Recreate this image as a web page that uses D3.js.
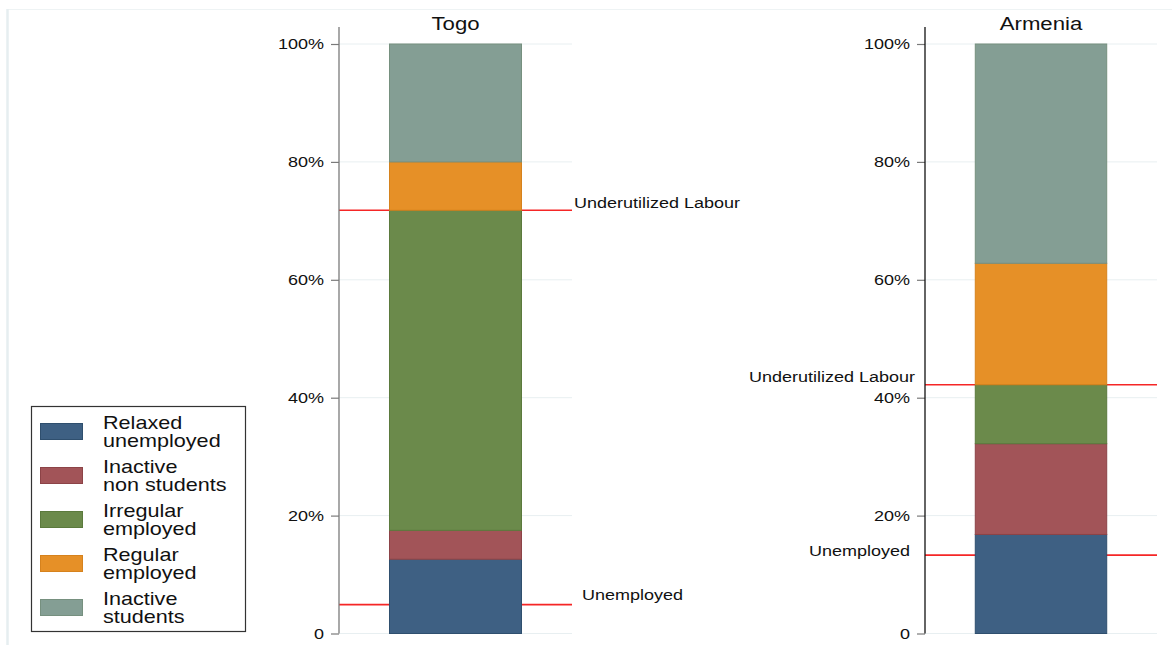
<!DOCTYPE html>
<html>
<head>
<meta charset="utf-8">
<script src="https://cdn.jsdelivr.net/npm/d3@7"></script>
<style>
  html, body { margin: 0; padding: 0; background: #fff; }
  svg { display: block; font-family: "Liberation Sans", Arial, sans-serif; }
</style>
</head>
<body>
<svg id="chart" width="1172" height="645"></svg>
<script>
// ---- data ----
const countries = ["Togo", "Armenia"];
const categories = ["Relaxed unemployed", "Inactive non students", "Irregular employed", "Regular employed", "Inactive students"];
const togoValues = [12.6, 4.9, 54.3, 8.2, 20.0];
const armeniaValues = [16.8, 15.4, 10.0, 20.6, 37.2];
const unemployedRate = [4.9, 13.3];
const underutilizedRate = [71.8, 42.2];
const refLabels = ["Unemployed", "Underutilized Labour"];
const yTicks = [0, 20, 40, 60, 80, 100];
const colors = ["#3e6083", "#a25458", "#6b8a4b", "#e69027", "#849e94"];
const strokes = ["#2f4f6e", "#8c4347", "#5b7a3d", "#d6821d", "#76907f"];

const values = [togoValues, armeniaValues];

const svg = d3.select("#chart");
const SX = 1.2; // horizontal text stretch of the original

// outer frame
svg.append("line").attr("x1", 7).attr("x2", 1172).attr("y1", 9.5).attr("y2", 9.5)
  .attr("stroke", "#eef3f4").attr("stroke-width", 1);
svg.append("line").attr("x1", 7.5).attr("x2", 7.5).attr("y1", 9).attr("y2", 645)
  .attr("stroke", "#e6eef0").attr("stroke-width", 2.5);

function stretchedText(g, x, y, txt, size, anchor) {
  return g.append("text")
    .attr("transform", `translate(${x},${y}) scale(${SX},1)`)
    .attr("text-anchor", anchor)
    .attr("font-size", size)
    .attr("fill", "#111")
    .text(txt);
}

const panels = [
  { x0: 339, x1: 572, axisColor: "#7a7a7a", labelSide: "right" },
  { x0: 925, x1: 1157, axisColor: "#111", labelSide: "left" }
];

const y = d3.scaleLinear().domain([0, 100]).range([633.5, 44]);

countries.forEach((c, ci) => {
  const p = panels[ci];
  const g = svg.append("g");
  const x = d3.scaleBand().domain([c]).range([p.x0, p.x1]).paddingInner(0.2732).paddingOuter(0.2732);

  // gridlines
  g.selectAll(".grid").data(yTicks).enter().append("line")
    .attr("x1", p.x0).attr("x2", p.x1)
    .attr("y1", d => y(d)).attr("y2", d => y(d))
    .attr("stroke", "#e8eff1").attr("stroke-width", 1);

  // reference lines (behind bars)
  const refs = [unemployedRate[ci], underutilizedRate[ci]];
  g.selectAll(".ref").data(refs).enter().append("line")
    .attr("x1", p.x0).attr("x2", p.x1)
    .attr("y1", d => y(d)).attr("y2", d => y(d))
    .attr("stroke", "#f52626").attr("stroke-width", 1.6);

  // stacked bars
  const vals = values[ci];
  const cum = d3.cumsum(vals);
  const segs = vals.map((v, i) => ({ i, y0: cum[i] - v, y1: cum[i] }));
  g.selectAll(".seg").data(segs).enter().append("rect")
    .attr("x", x(c) + 0.5)
    .attr("width", x.bandwidth() - 1)
    .attr("y", d => y(d.y1))
    .attr("height", d => y(d.y0) - y(d.y1))
    .attr("fill", d => colors[d.i])
    .attr("stroke", d => strokes[d.i])
    .attr("stroke-width", 1);

  // y axis
  const axis = d3.axisLeft(y).tickValues(yTicks).tickSize(8).tickPadding(7)
    .tickFormat(d => d === 0 ? "0" : d + "%");
  const ag = g.append("g").attr("transform", `translate(${p.x0},0)`).call(axis);
  ag.select(".domain").remove();
  ag.selectAll(".tick line").attr("stroke", "#7a7a7a").attr("stroke-width", 1.2);
  ag.selectAll(".tick text").remove();
  yTicks.forEach(t => {
    stretchedText(g, p.x0 - 15, y(t) + 5.3, t === 0 ? "0" : t + "%", 15, "end");
  });
  g.append("line").attr("x1", p.x0).attr("x2", p.x0)
    .attr("y1", y(0)).attr("y2", y(102.9))
    .attr("stroke", p.axisColor).attr("stroke-width", 1.3);

  // title
  stretchedText(g, (p.x0 + p.x1) / 2, 30, c, 18.5, "middle");

  // reference labels
  if (p.labelSide === "right") {
    stretchedText(g, p.x1 + 10, y(refs[0]) - 5, refLabels[0], 15, "start");
    stretchedText(g, p.x1 + 2, y(refs[1]) - 2, refLabels[1], 15, "start");
  } else {
    stretchedText(g, p.x0 - 15, y(refs[0]) + 1, refLabels[0], 15, "end");
    stretchedText(g, p.x0 - 10, y(refs[1]) - 3, refLabels[1], 15, "end");
  }
});

// legend
const lg = svg.append("g");
lg.append("rect").attr("x", 31.5).attr("y", 406.5).attr("width", 214).attr("height", 225)
  .attr("fill", "#fff").attr("stroke", "#333").attr("stroke-width", 1.2);
categories.forEach((cat, i) => {
  const top = 423 + i * 44;
  lg.append("rect").attr("x", 40.5).attr("y", top + 0.5).attr("width", 42).attr("height", 16)
    .attr("fill", colors[i]).attr("stroke", strokes[i]).attr("stroke-width", 1);
  const k = cat.indexOf(" ");
  stretchedText(lg, 103, top + 6, cat.slice(0, k), 18, "start");
  stretchedText(lg, 103, top + 24, cat.slice(k + 1), 18, "start");
});
</script>
</body>
</html>
